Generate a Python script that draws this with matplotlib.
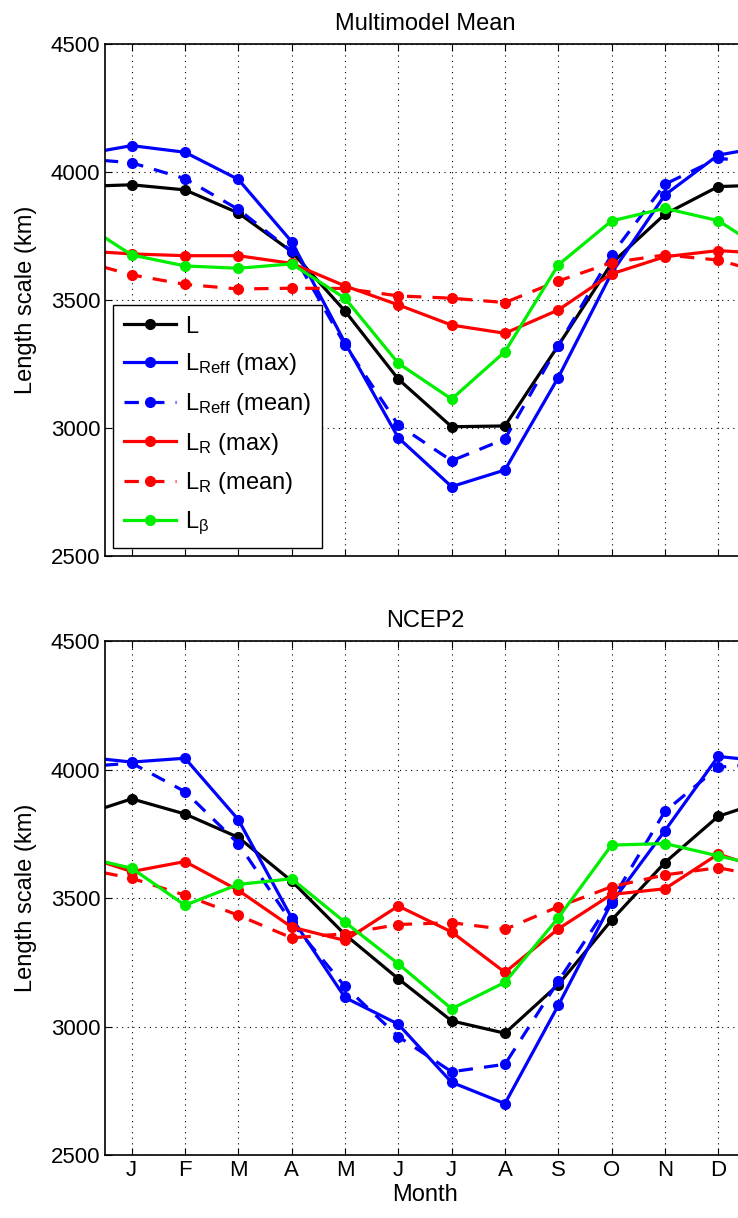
import numpy as np
import matplotlib
matplotlib.use("Agg")
import matplotlib.pyplot as plt

plt.rcParams["font.family"] = ["Liberation Sans", "DejaVu Sans"]
plt.rcParams["mathtext.fontset"] = "custom"
plt.rcParams["mathtext.rm"] = "Liberation Sans"
plt.rcParams["mathtext.it"] = "Liberation Sans"

months = ["J", "F", "M", "A", "M", "J", "J", "A", "S", "O", "N", "D"]

# Multimodel mean (km)
mm_L = [3950, 3930, 3840, 3689, 3457, 3191, 3005, 3008, 3322, 3643, 3835, 3943]
mm_Reff_max = [4103, 4077, 3971, 3728, 3333, 2962, 2771, 2836, 3197, 3605, 3910, 4066]
mm_Reff_mean = [4036, 3974, 3854, 3690, 3325, 3012, 2872, 2957, 3322, 3676, 3952, 4053]
mm_R_max = [3680, 3673, 3673, 3643, 3555, 3481, 3402, 3370, 3461, 3602, 3669, 3693]
mm_R_mean = [3598, 3561, 3543, 3546, 3545, 3516, 3507, 3490, 3574, 3646, 3676, 3656]
mm_beta = [3676, 3633, 3624, 3641, 3507, 3253, 3113, 3298, 3637, 3809, 3858, 3810]

# NCEP2 (km)
nc_L = [3886, 3827, 3736, 3566, 3358, 3186, 3022, 2974, 3163, 3414, 3638, 3818]
nc_Reff_max = [4029, 4044, 3805, 3423, 3113, 3009, 2783, 2700, 3082, 3482, 3762, 4051]
nc_Reff_mean = [4025, 3914, 3712, 3405, 3156, 2961, 2824, 2853, 3176, 3490, 3837, 4009]
nc_R_max = [3603, 3642, 3530, 3387, 3335, 3469, 3368, 3211, 3380, 3514, 3536, 3671]
nc_R_mean = [3577, 3511, 3433, 3345, 3361, 3397, 3404, 3378, 3466, 3544, 3590, 3618]
nc_beta = [3616, 3472, 3553, 3575, 3406, 3244, 3069, 3172, 3423, 3706, 3712, 3664]

labels = ["L", r"L$_\mathregular{Reff}$ (max)", r"L$_\mathregular{Reff}$ (mean)",
          r"L$_\mathregular{R}$ (max)", r"L$_\mathregular{R}$ (mean)", r"L$_\beta$"]
styles = [("k", "-"), ("#0000ff", "-"), ("#0000ff", "--"),
          ("#ff0000", "-"), ("#ff0000", "--"), ("#00ee00", "-")]


def wrap(vals):
    # periodic: Dec before Jan, Jan after Dec
    return [vals[-1]] + list(vals) + [vals[0]]


def panel(ax, series, title, show_x):
    x = np.arange(0, 14)
    handles = []
    for vals, (c, ls), lab in zip(series, styles, labels):
        h, = ax.plot(x, wrap(vals), color=c, ls=ls, lw=2.3, marker="o",
                     ms=7, markevery=list(range(1, 13)), label=lab,
                     dashes=(4.5, 3.5) if ls == "--" else (None, None))
        handles.append(h)
    ax.set_xlim(0.5, 12.5)
    ax.set_ylim(2500, 4500)
    ax.set_yticks([2500, 3000, 3500, 4000, 4500])
    ax.set_xticks(range(1, 13))
    if show_x:
        ax.set_xticklabels(months)
        ax.set_xlabel("Month", fontsize=17, labelpad=2)
    else:
        ax.set_xticklabels([])
    ax.set_ylabel("Length scale (km)", fontsize=17, labelpad=10)
    ax.set_title(title, fontsize=17, pad=10)
    ax.grid(True, ls=(0, (1, 4)), color="k", lw=0.8)
    ax.tick_params(direction="in", labelsize=16, length=5, top=True, right=True)
    for s in ax.spines.values():
        s.set_linewidth(1.2)
    return handles


fig = plt.figure(figsize=(7.38, 12.18), dpi=100)
ax1 = fig.add_axes([0.1423, 0.5435, 0.867, 0.4204])
ax2 = fig.add_axes([0.1423, 0.0517, 0.867, 0.422])

h = panel(ax1, [mm_L, mm_Reff_max, mm_Reff_mean, mm_R_max, mm_R_mean, mm_beta],
          "Multimodel Mean", False)
panel(ax2, [nc_L, nc_Reff_max, nc_Reff_mean, nc_R_max, nc_R_mean, nc_beta],
      "NCEP2", True)

leg = ax1.legend(handles=h, loc="lower left", bbox_to_anchor=(0.0125, 0.0156),
                 borderaxespad=0, fontsize=17, handlelength=2.2, labelspacing=0.58,
                 fancybox=False, framealpha=1, edgecolor="k", borderpad=0.45,
                 handletextpad=0.4)
leg.get_frame().set_linewidth(1.0)

fig.savefig("out.png", dpi=100)
